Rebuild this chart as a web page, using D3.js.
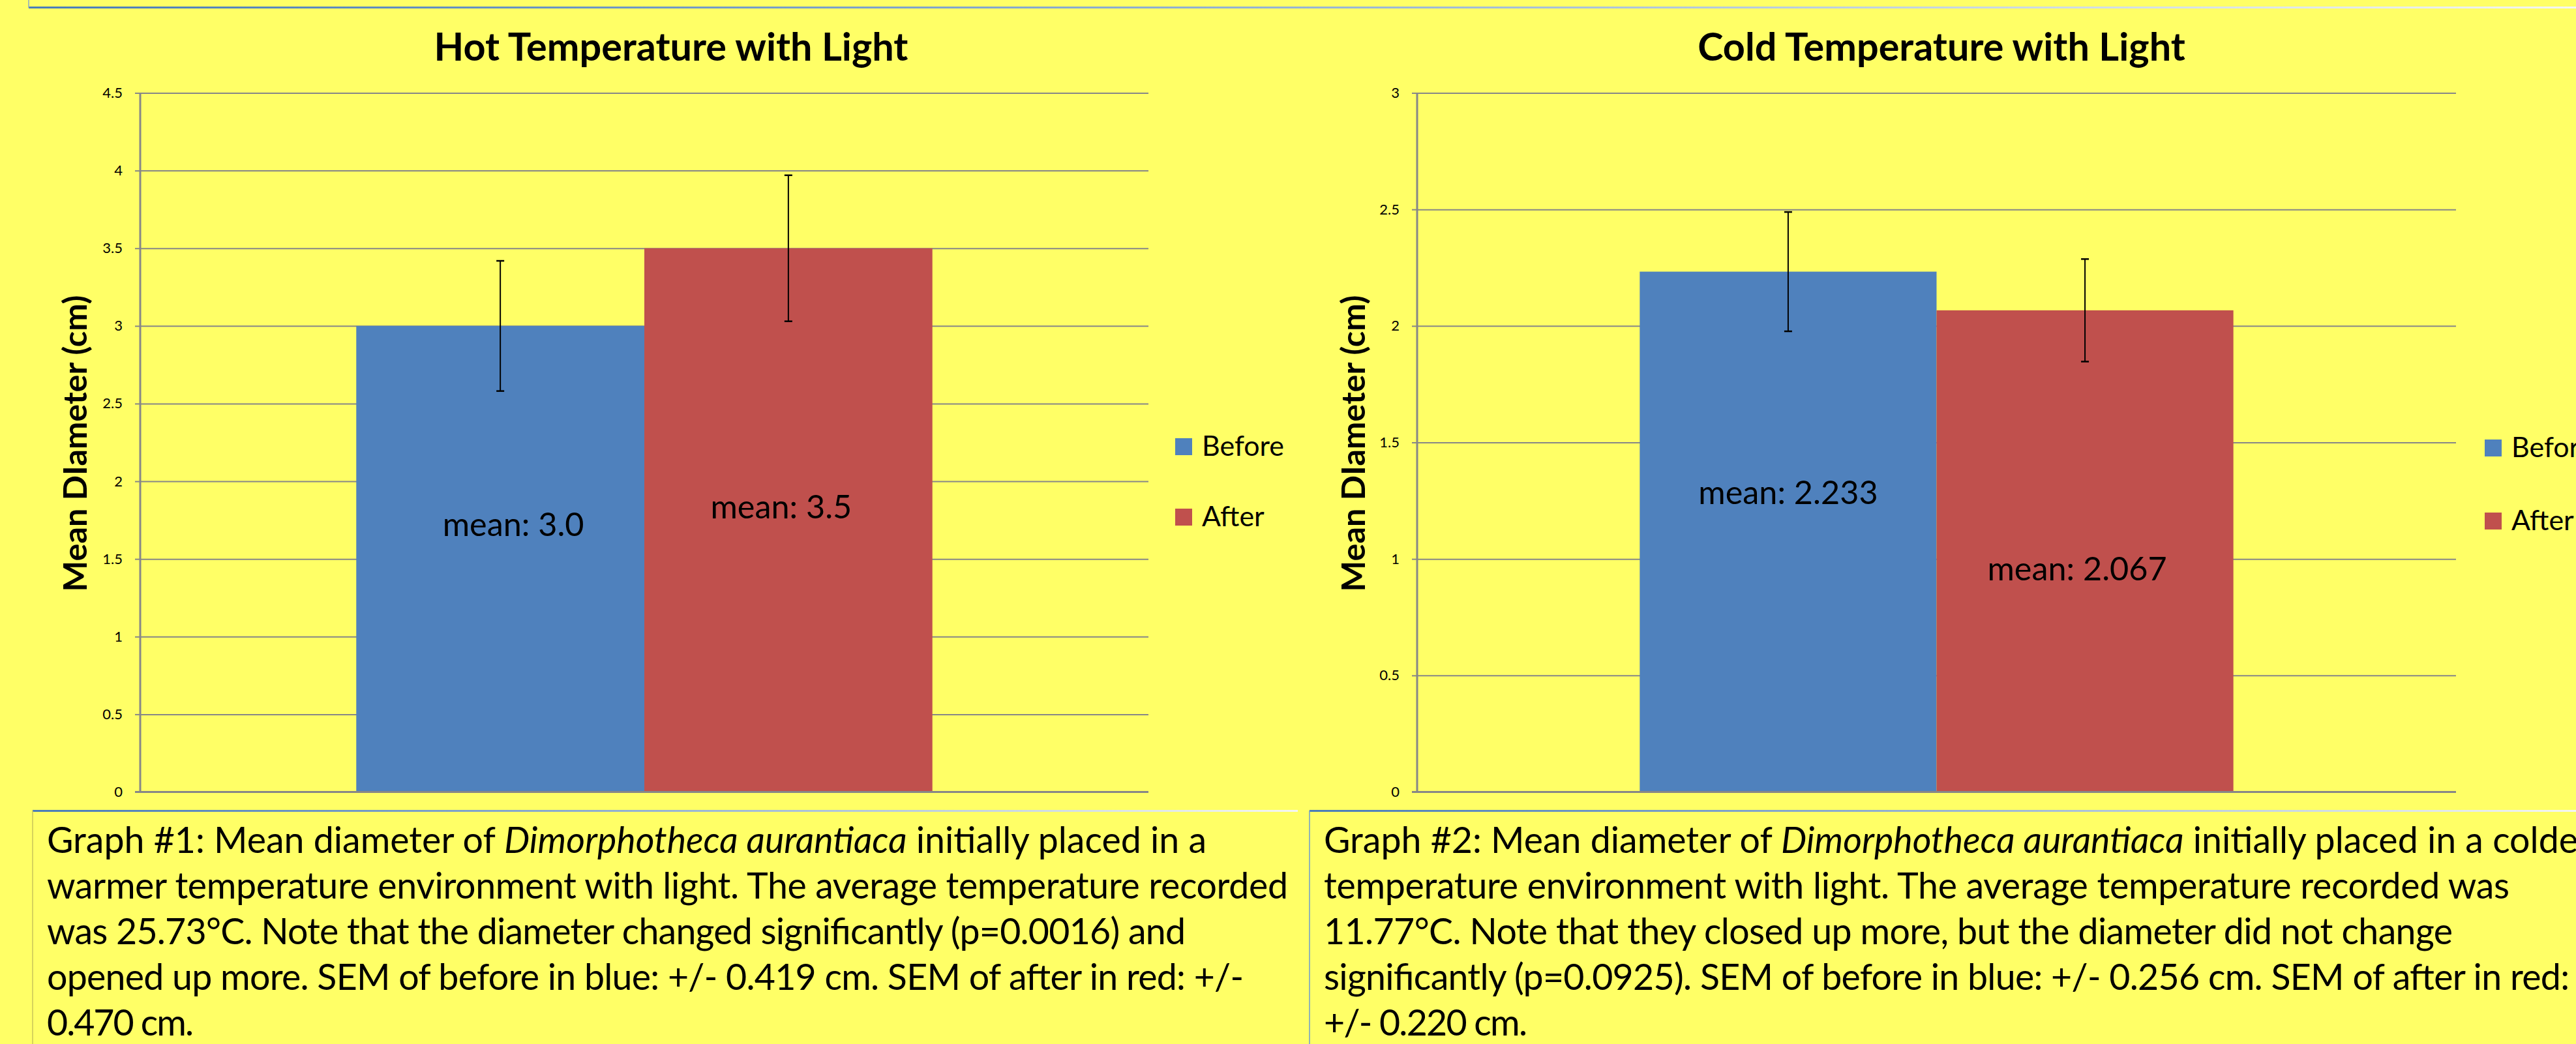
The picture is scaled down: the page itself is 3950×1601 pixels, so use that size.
<!DOCTYPE html>
<html>
<head>
<meta charset="utf-8">
<script src="https://cdn.jsdelivr.net/npm/d3@7"></script>
<style>
  html, body { margin: 0; padding: 0; background: #ffff66; }
  svg { display: block; }
</style>
</head>
<body>
<svg id="chart" width="3950" height="1601"></svg>
<script>
// ---------------- DATA ----------------
const series = ["Before", "After"];
const category = ["Light"];
const hotValues = [3.0, 3.5];
const hotSEM = [0.419, 0.470];
const coldValues = [2.233, 2.067];
const coldSEM = [0.256, 0.220];
const hotTicks = [0, 0.5, 1, 1.5, 2, 2.5, 3, 3.5, 4, 4.5];
const coldTicks = [0, 0.5, 1, 1.5, 2, 2.5, 3];
const hotLabels = ["mean: 3.0", "mean: 3.5"];
const coldLabels = ["mean: 2.233", "mean: 2.067"];
const hotTitle = "Hot Temperature with Light";
const coldTitle = "Cold Temperature with Light";
const yTitle = "Mean DIameter (cm)";
const hotCaption = [
  [["Graph #1: Mean diameter of ", false], ["Dimorphotheca aurantiaca", true], [" initially placed in a", false]],
  [["warmer temperature environment with light. The average temperature recorded", false]],
  [["was 25.73°C. Note that the diameter changed significantly (p=0.0016) and", false]],
  [["opened up more. SEM of before in blue: +/- 0.419 cm. SEM of after in red: +/-", false]],
  [["0.470 cm.", false]]
];
const coldCaption = [
  [["Graph #2: Mean diameter of ", false], ["Dimorphotheca aurantiaca", true], [" initially placed in a colder", false]],
  [["temperature environment with light. The average temperature recorded was", false]],
  [["11.77°C. Note that they closed up more, but the diameter did not change", false]],
  [["significantly (p=0.0925). SEM of before in blue: +/- 0.256 cm. SEM of after in red:", false]],
  [["+/- 0.220 cm.", false]]
];

// ---------------- LAYOUT / STYLE ----------------
const colors = ["#4f81bd", "#c0504d"];
const FONT = "Lato, 'Open Sans', 'DejaVu Sans', sans-serif";
const charts = [
  { values: hotValues, sem: hotSEM, ticks: hotTicks, labels: hotLabels, title: hotTitle, caption: hotCaption,
    yMax: 4.5, left: 215, right: 1761, titleX: 1029, yLabelX: 133, legendX: 1802, legendY: [672, 780],
    labelAt: [1.648, 1.761], labelDx: [20, -11], captionX: 72, boxX: 50, boxEnd: 1990, boxLeftColor: "#c9c45a",
    lineWidths: [1778, 1903, 1746, 1835, 225] },
  { values: coldValues, sem: coldSEM, ticks: coldTicks, labels: coldLabels, title: coldTitle, caption: coldCaption,
    yMax: 3, left: 2173, right: 3766, titleX: 2977, yLabelX: 2093, legendX: 3810, legendY: [674, 786],
    labelAt: [1.236, 0.908], labelDx: [0, -12], captionX: 2030, boxX: 2008, boxEnd: 3950, boxLeftColor: "#6d9bd1",
    lineWidths: [null, 1818, 1731, 1910, 312] }
];
const plotTop = 142.5, plotBottom = 1214.5;

const svg = d3.select("#chart");
svg.append("rect").attr("width", 3950).attr("height", 1601).attr("fill", "#ffff66");

const defs = svg.append("defs");
const grad = defs.append("linearGradient").attr("id", "edge").attr("x1", "0%").attr("x2", "100%");
grad.append("stop").attr("offset", "0%").attr("stop-color", "#4a7db8");
grad.append("stop").attr("offset", "55%").attr("stop-color", "#9fbad6");
grad.append("stop").attr("offset", "100%").attr("stop-color", "#f4f6f2");

// top box edge (from element above)
svg.append("rect").attr("x", 44).attr("y", 10).attr("width", 3950 - 44).attr("height", 3).attr("fill", "url(#edge)");
svg.append("line").attr("x1", 44).attr("x2", 44).attr("y1", 0).attr("y2", 12)
  .attr("stroke", "#8aa7c8").attr("stroke-width", 1.5);

function fitSize(sel, target) {
  const w = sel.node().getComputedTextLength();
  const fs = parseFloat(sel.attr("font-size"));
  return fs * target / w;
}

let sizes = null;

charts.forEach((c, ci) => {
  const g = svg.append("g");
  const W = c.right - c.left;
  const y = d3.scaleLinear().domain([0, c.yMax]).range([plotBottom, plotTop]);
  const x0 = d3.scaleBand().domain(category).range([c.left, c.right]).paddingInner(0).paddingOuter(0.375);
  const x1 = d3.scaleBand().domain(series).range([0, x0.bandwidth()]);

  // gridlines
  g.append("g").attr("transform", `translate(${c.left},0)`)
    .call(d3.axisLeft(y).tickValues(c.ticks).tickSize(-W).tickFormat(""))
    .call(s => s.select(".domain").remove())
    .call(s => s.selectAll(".tick line").attr("stroke", "#878787").attr("stroke-width", 2));

  // y axis
  const ax = g.append("g").attr("transform", `translate(${c.left},0)`)
    .call(d3.axisLeft(y).tickValues(c.ticks).tickSize(8).tickPadding(19).tickFormat(d3.format("")));
  ax.select(".domain").remove();
  ax.selectAll(".tick line").attr("stroke", "#878787").attr("stroke-width", 2);
  ax.selectAll(".tick text").attr("font-family", FONT).attr("font-size", 22).attr("fill", "#000");
  g.append("line").attr("x1", c.left).attr("x2", c.left).attr("y1", plotTop).attr("y2", plotBottom)
    .attr("stroke", "#878787").attr("stroke-width", 3);

  // bars
  const grp = g.append("g").attr("transform", `translate(${x0(category[0])},0)`);
  grp.selectAll("rect").data(c.values).join("rect")
    .attr("x", (d, i) => x1(series[i]))
    .attr("width", x1.bandwidth())
    .attr("y", d => y(d))
    .attr("height", d => y(0) - y(d))
    .attr("fill", (d, i) => colors[i]);

  // x axis line
  g.append("line").attr("x1", c.left - 8).attr("x2", c.right).attr("y1", y(0)).attr("y2", y(0))
    .attr("stroke", "#878787").attr("stroke-width", 3);

  // error bars
  const eb = grp.selectAll("g.err").data(c.values).join("g").attr("class", "err")
    .attr("transform", (d, i) => `translate(${x1(series[i]) + x1.bandwidth() / 2},0)`);
  eb.append("line").attr("y1", (d, i) => y(d - c.sem[i])).attr("y2", (d, i) => y(d + c.sem[i]))
    .attr("stroke", "#000").attr("stroke-width", 2);
  eb.append("line").attr("x1", -6).attr("x2", 6).attr("y1", (d, i) => y(d + c.sem[i])).attr("y2", (d, i) => y(d + c.sem[i]))
    .attr("stroke", "#000").attr("stroke-width", 2.5);
  eb.append("line").attr("x1", -6).attr("x2", 6).attr("y1", (d, i) => y(d - c.sem[i])).attr("y2", (d, i) => y(d - c.sem[i]))
    .attr("stroke", "#000").attr("stroke-width", 2.5);

  // bar labels
  const lbl = grp.selectAll("text.lbl").data(c.labels).join("text").attr("class", "lbl")
    .attr("x", (d, i) => x1(series[i]) + x1.bandwidth() / 2 + c.labelDx[i])
    .attr("y", (d, i) => y(c.labelAt[i]))
    .attr("text-anchor", "middle").attr("font-family", FONT).attr("font-size", 50).attr("fill", "#000")
    .text(d => d);

  // title
  const t = g.append("text").attr("x", c.titleX).attr("y", 93).attr("text-anchor", "middle")
    .attr("font-family", FONT).attr("font-weight", "bold").attr("font-size", 53).attr("fill", "#000").text(c.title);

  // y title
  const yt = g.append("text").attr("transform", `translate(${c.yLabelX},680) rotate(-90)`)
    .attr("text-anchor", "middle").attr("font-family", FONT).attr("font-weight", "bold")
    .attr("font-size", 46).attr("fill", "#000").text(yTitle);

  // legend
  const lg = g.append("g");
  series.forEach((s, i) => {
    lg.append("rect").attr("x", c.legendX).attr("y", c.legendY[i]).attr("width", 26).attr("height", 26).attr("fill", colors[i]);
    lg.append("text").attr("class", "leg").attr("x", c.legendX + 41).attr("y", c.legendY[i] + 27)
      .attr("font-family", FONT).attr("font-size", 42).attr("fill", "#000").text(s);
  });

  // caption box
  svg.append("rect").attr("x", c.boxX).attr("y", 1242).attr("width", c.boxEnd - c.boxX).attr("height", 3).attr("fill", "url(#edge)");
  svg.append("line").attr("x1", c.boxX).attr("x2", c.boxX).attr("y1", 1243).attr("y2", 1601)
    .attr("stroke", c.boxLeftColor).attr("stroke-width", 1.5);
  const cap = svg.append("g");
  const capTexts = c.caption.map((line, li) => {
    const tx = cap.append("text").attr("x", c.captionX).attr("y", 1308 + li * 70)
      .attr("font-family", FONT).attr("font-size", 50).attr("fill", "#000");
    line.forEach(([str, it]) => tx.append("tspan").attr("font-style", it ? "italic" : "normal").text(str));
    return tx;
  });

  if (!sizes) {
    sizes = {
      title: fitSize(t, 727),
      ylab: fitSize(yt, 455),
      mean: fitSize(lbl.filter((d, i) => i === 0), 217),
      leg: fitSize(lg.select("text.leg"), 126),
      cap: fitSize(capTexts[0], 1778)
    };
  }
  t.attr("font-size", sizes.title);
  yt.attr("font-size", sizes.ylab);
  lbl.attr("font-size", sizes.mean);
  lg.selectAll("text.leg").attr("font-size", sizes.leg);
  capTexts.forEach((tx, li) => {
    tx.attr("font-size", sizes.cap);
    const w = c.lineWidths[li];
    if (w) tx.attr("textLength", w).attr("lengthAdjust", "spacing");
  });
});
</script>
</body>
</html>
